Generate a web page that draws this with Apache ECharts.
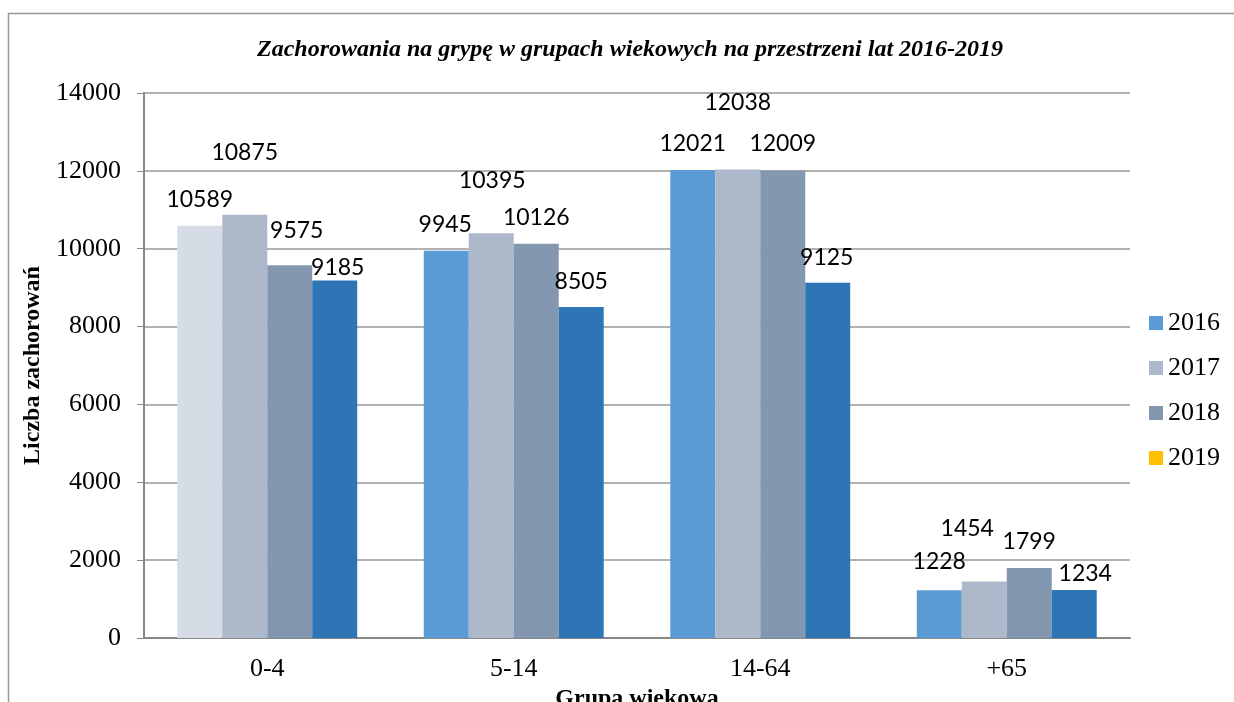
<!DOCTYPE html>
<html>
<head>
<meta charset="utf-8">
<script src="https://cdn.jsdelivr.net/npm/echarts@6/dist/echarts.min.js"></script>
<style>
  html, body { margin: 0; padding: 0; background: #fff; }
  #chart { width: 1234px; height: 702px; }
</style>
</head>
<body>
<div id="chart"></div>
<script>
// data
const groups = ['0-4', '5-14', '14-64', '+65'];
const years = ['2016', '2017', '2018', '2019'];
const v2016 = [10589, 9945, 12021, 1228];
const v2017 = [10875, 10395, 12038, 1454];
const v2018 = [9575, 10126, 12009, 1799];
const v2019 = [9185, 8505, 9125, 1234];
const yTicks = [0, 2000, 4000, 6000, 8000, 10000, 12000, 14000];

// styling
const barColors = ['#5B9BD5', '#ADB9CA', '#8497B0', '#2E75B6'];
const legendColors = ['#5B9BD5', '#ADB9CA', '#8497B0', '#FFC000'];
const firstBarColor = '#D6DCE5';
// label nudges [dx, dy] per series, per group, as placed in the original
const labelNudge = [
  [[0, -10], [-1, -10], [0, -10], [0, -12]],
  [[0, -46], [1, -36], [0, -50], [-17, -36]],
  [[7, -18], [0, -10], [0, -10], [0, -10]],
  [[3, 4], [0, -9], [-1, -9], [11, 0]]
];

const serif = 'Liberation Serif';
const allValues = [v2016, v2017, v2018, v2019];

const series = allValues.map((vals, si) => ({
  name: years[si],
  type: 'bar',
  barGap: '0%',
  barCategoryGap: '27%',
  itemStyle: { color: barColors[si] },
  label: {
    show: true,
    position: 'top',
    distance: 5,
    fontFamily: 'Lato',
    fontSize: 23,
    color: '#000'
  },
  data: vals.map((v, gi) => {
    const item = {
      value: v,
      label: { offset: labelNudge[si][gi] }
    };
    if (si === 0 && gi === 0) item.itemStyle = { color: firstBarColor };
    return item;
  })
}));

const chart = echarts.init(document.getElementById('chart'));
chart.setOption({
  animation: false,
  backgroundColor: '#fff',
  title: {
    text: 'Zachorowania na grypę w grupach wiekowych na przestrzeni lat 2016-2019',
    left: 252,
    top: 33,
    textStyle: {
      fontFamily: serif,
      fontStyle: 'italic',
      fontWeight: 'bold',
      fontSize: 24,
      color: '#000'
    }
  },
  legend: {
    orient: 'vertical',
    left: 1144,
    top: 305,
    icon: 'rect',
    itemWidth: 14,
    itemHeight: 14,
    itemGap: 19,
    textStyle: { fontFamily: serif, fontSize: 26, color: '#000' },
    data: years.map((y, i) => ({ name: y, itemStyle: { color: legendColors[i] } }))
  },
  grid: { left: 144, right: 104, top: 93, bottom: 64, outerBoundsMode: 'none', containLabel: false },
  xAxis: {
    type: 'category',
    data: groups,
    name: 'Grupa wiekowa',
    nameLocation: 'middle',
    nameGap: 44,
    nameTextStyle: { fontFamily: serif, fontWeight: 'bold', fontSize: 24, color: '#000' },
    axisLine: { lineStyle: { color: '#888', width: 2 } },
    axisTick: { show: false },
    axisLabel: { fontFamily: serif, fontSize: 26, color: '#000', margin: 18 }
  },
  yAxis: {
    type: 'value',
    min: yTicks[0],
    max: yTicks[yTicks.length - 1],
    interval: yTicks[1] - yTicks[0],
    name: 'Liczba zachorowań',
    nameLocation: 'middle',
    nameRotate: 90,
    nameGap: 99,
    nameTextStyle: { fontFamily: serif, fontWeight: 'bold', fontSize: 24, color: '#000' },
    axisLine: { show: true, lineStyle: { color: '#888', width: 2 } },
    axisTick: { show: true, length: 7, lineStyle: { color: '#888' } },
    splitLine: { lineStyle: { color: '#999', width: 1.5 } },
    axisLabel: {
      fontFamily: serif, fontSize: 26, color: '#000', margin: 23,
      formatter: (v) => String(v)
    }
  },
  graphic: [{
    type: 'rect',
    shape: { x: 8.5, y: 13.5, width: 1240, height: 700 },
    style: { fill: 'none', stroke: '#999', lineWidth: 1.5 },
    silent: true
  }],
  series: series
});
</script>
</body>
</html>
